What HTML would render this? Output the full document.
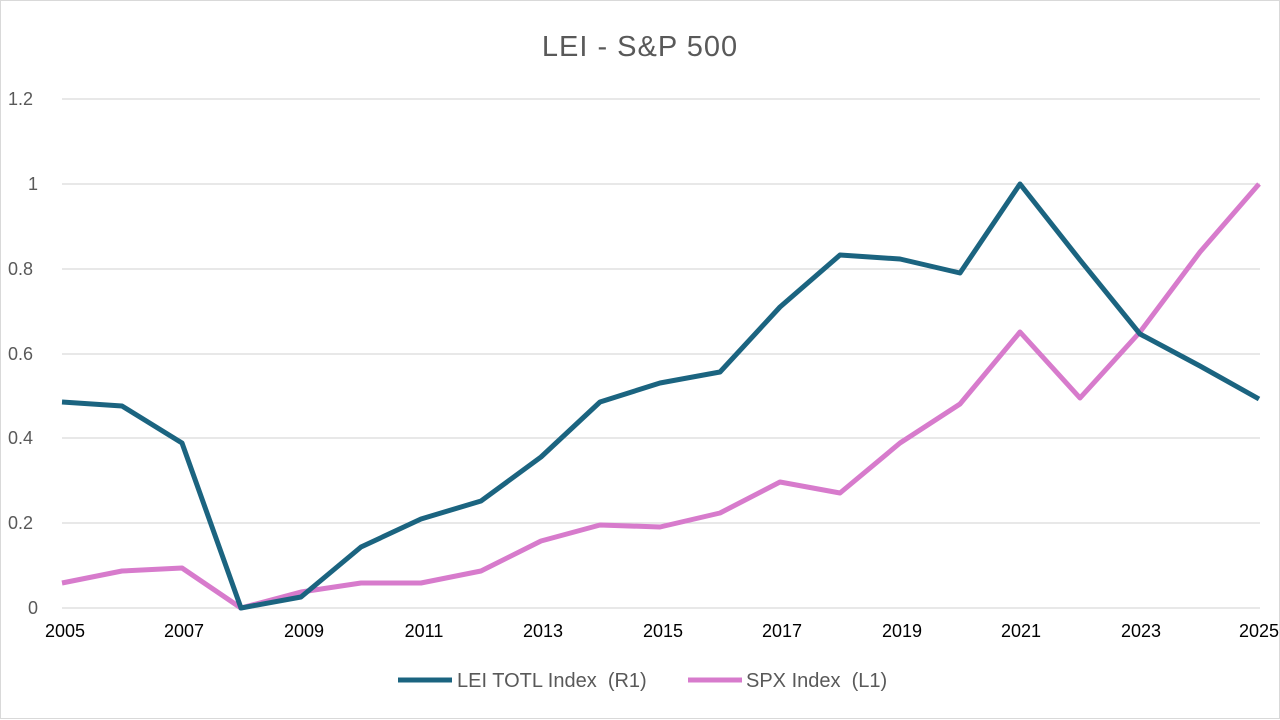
<!DOCTYPE html>
<html><head><meta charset="utf-8"><style>
html,body{margin:0;padding:0;background:#fff;}
svg{display:block;}
text{font-family:"Liberation Sans",sans-serif;}
</style></head><body>
<svg width="1280" height="720" viewBox="0 0 1280 720" xmlns="http://www.w3.org/2000/svg">
<rect x="0.5" y="0.5" width="1279" height="718" fill="#fff" stroke="#d9d9d9"/>
<text x="640" y="56" text-anchor="middle" font-size="29" fill="#595959" letter-spacing="1">LEI - S&amp;P 500</text>
<g stroke="#d9d9d9" stroke-width="1.3">
<line x1="62" x2="1260" y1="99" y2="99"/>
<line x1="62" x2="1260" y1="184" y2="184"/>
<line x1="62" x2="1260" y1="269" y2="269"/>
<line x1="62" x2="1260" y1="354" y2="354"/>
<line x1="62" x2="1260" y1="438" y2="438"/>
<line x1="62" x2="1260" y1="523" y2="523"/>
<line x1="62" x2="1260" y1="608" y2="608"/>
</g>
<g font-size="18" fill="#595959" text-anchor="start">
<text x="8" y="105">1.2</text>
<text x="28" y="190">1</text>
<text x="8" y="275">0.8</text>
<text x="8" y="360">0.6</text>
<text x="8" y="444">0.4</text>
<text x="8" y="529">0.2</text>
<text x="28" y="614">0</text>
</g>
<g font-size="18" fill="#000" text-anchor="middle">
<text x="65" y="637">2005</text>
<text x="184" y="637">2007</text>
<text x="304" y="637">2009</text>
<text x="424" y="637">2011</text>
<text x="543" y="637">2013</text>
<text x="663" y="637">2015</text>
<text x="782" y="637">2017</text>
<text x="902" y="637">2019</text>
<text x="1021" y="637">2021</text>
<text x="1141" y="637">2023</text>
<text x="1259" y="637">2025</text>
</g>
<polyline fill="none" stroke="#d77bcc" stroke-width="5" stroke-linejoin="round" points="62,583 122,571 182,568 241,608 301,592 361,583 421,583 481,571 541,541 600,525 660,527 720,513 780,482 840,493 900,443 960,404 1020,332 1080,398 1140,332 1200,252 1259,184"/>
<polyline fill="none" stroke="#1b6480" stroke-width="5" stroke-linejoin="round" points="62,402 122,406 182,443 241,608 301,597 361,547 421,519 481,501 541,457 600,402 660,383 720,372 780,307 840,255 900,259 960,273 1020,184 1080,260 1140,334 1200,366 1259,399"/>
<line x1="398" x2="452" y1="680" y2="680" stroke="#1b6480" stroke-width="5"/>
<text x="457" y="687" font-size="20" fill="#595959">LEI TOTL Index&#160;&#160;(R1)</text>
<line x1="688" x2="742" y1="680" y2="680" stroke="#d77bcc" stroke-width="5"/>
<text x="746" y="687" font-size="20" fill="#595959">SPX Index&#160;&#160;(L1)</text>
</svg>
</body></html>
